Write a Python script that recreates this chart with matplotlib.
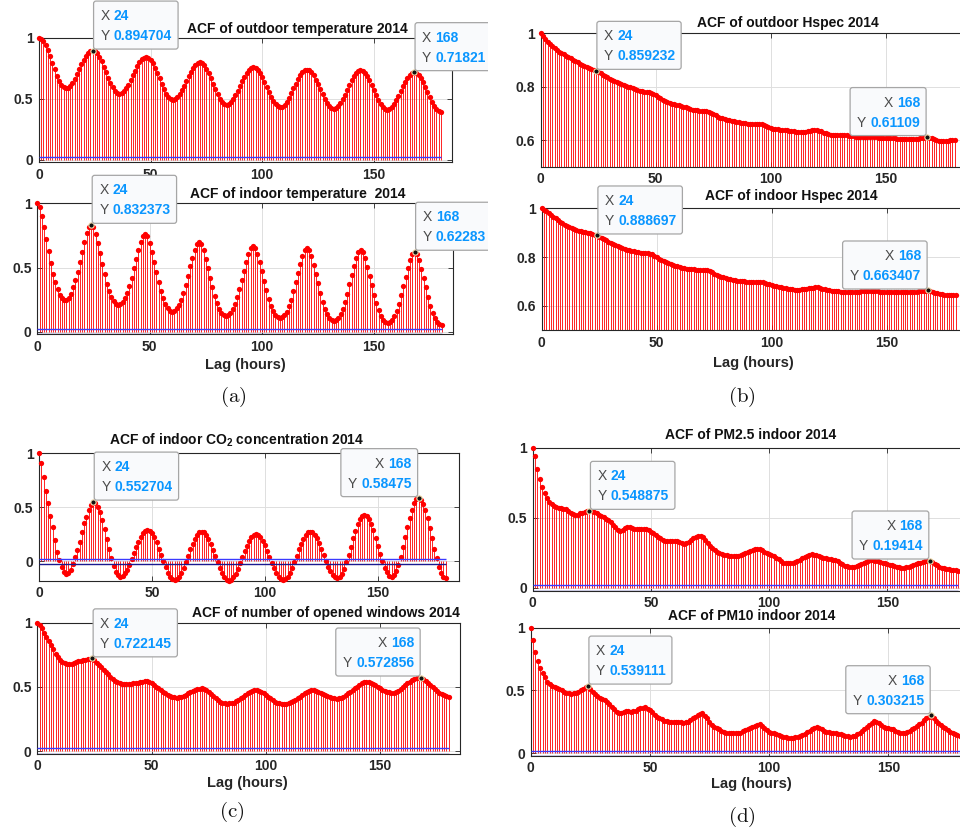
import matplotlib
matplotlib.use('Agg')
import matplotlib.pyplot as plt
import numpy as np
from matplotlib.transforms import IdentityTransform, Bbox
from matplotlib.patches import FancyBboxPatch

W, H = 960, 832
plt.rcParams['font.family'] = ['Liberation Sans', 'DejaVu Sans']
plt.rcParams['font.weight'] = 'bold'
plt.rcParams['mathtext.fontset'] = 'custom'
plt.rcParams['mathtext.rm'] = 'Liberation Sans'
plt.rcParams['mathtext.bf'] = 'Liberation Sans:bold'

lags = np.arange(181)

acf_out_temp = [
    1.000, 0.993, 0.972, 0.940, 0.897, 0.847, 0.794, 0.740, 0.690, 0.647, 0.615, 0.594,
    0.587, 0.592, 0.608, 0.632, 0.664, 0.701, 0.741, 0.781, 0.818, 0.850, 0.874, 0.890,
    0.894704, 0.889, 0.871, 0.843, 0.807, 0.764, 0.718, 0.672, 0.630, 0.593, 0.565, 0.547,
    0.541, 0.546, 0.561, 0.585, 0.616, 0.653, 0.692, 0.731, 0.767, 0.798, 0.822, 0.837,
    0.842, 0.836, 0.819, 0.791, 0.755, 0.712, 0.667, 0.622, 0.580, 0.543, 0.515, 0.498,
    0.492, 0.497, 0.513, 0.537, 0.569, 0.605, 0.645, 0.685, 0.722, 0.753, 0.778, 0.793,
    0.798, 0.792, 0.775, 0.747, 0.711, 0.669, 0.625, 0.580, 0.538, 0.502, 0.474, 0.457,
    0.451, 0.456, 0.472, 0.496, 0.528, 0.564, 0.604, 0.644, 0.681, 0.712, 0.737, 0.752,
    0.757, 0.752, 0.735, 0.709, 0.676, 0.637, 0.595, 0.552, 0.513, 0.480, 0.454, 0.438,
    0.432, 0.437, 0.453, 0.477, 0.509, 0.545, 0.585, 0.625, 0.662, 0.693, 0.718, 0.733,
    0.738, 0.733, 0.717, 0.691, 0.658, 0.619, 0.578, 0.537, 0.498, 0.465, 0.439, 0.423,
    0.418, 0.423, 0.439, 0.464, 0.497, 0.534, 0.575, 0.616, 0.654, 0.686, 0.711, 0.727,
    0.732, 0.727, 0.710, 0.685, 0.652, 0.613, 0.571, 0.529, 0.491, 0.457, 0.432, 0.416,
    0.410, 0.415, 0.431, 0.455, 0.487, 0.524, 0.564, 0.604, 0.641, 0.673, 0.697, 0.713,
    0.71821, 0.713, 0.696, 0.671, 0.638, 0.599, 0.557, 0.515, 0.477, 0.443, 0.418, 0.402,
    0.396]

acf_in_temp = [
    1.000, 0.974, 0.904, 0.818, 0.722, 0.629, 0.538, 0.449, 0.384, 0.330, 0.286, 0.262,
    0.247, 0.247, 0.260, 0.293, 0.345, 0.403, 0.468, 0.545, 0.623, 0.701, 0.771, 0.818,
    0.832373, 0.813, 0.760, 0.688, 0.611, 0.529, 0.448, 0.373, 0.314, 0.267, 0.236, 0.216,
    0.208, 0.215, 0.233, 0.261, 0.302, 0.355, 0.421, 0.493, 0.565, 0.634, 0.697, 0.744,
    0.761, 0.743, 0.691, 0.622, 0.546, 0.468, 0.389, 0.316, 0.259, 0.214, 0.183, 0.163,
    0.156, 0.163, 0.181, 0.208, 0.249, 0.300, 0.366, 0.437, 0.508, 0.576, 0.638, 0.685,
    0.701, 0.684, 0.634, 0.568, 0.495, 0.420, 0.345, 0.275, 0.220, 0.177, 0.148, 0.129,
    0.122, 0.129, 0.147, 0.174, 0.215, 0.267, 0.333, 0.404, 0.475, 0.544, 0.607, 0.654,
    0.670, 0.653, 0.605, 0.540, 0.469, 0.395, 0.322, 0.254, 0.200, 0.158, 0.129, 0.111,
    0.104, 0.111, 0.129, 0.156, 0.197, 0.249, 0.315, 0.386, 0.457, 0.526, 0.589, 0.636,
    0.652, 0.635, 0.587, 0.521, 0.450, 0.376, 0.302, 0.234, 0.180, 0.137, 0.109, 0.090,
    0.083, 0.090, 0.108, 0.136, 0.177, 0.230, 0.296, 0.368, 0.440, 0.509, 0.572, 0.619,
    0.636, 0.619, 0.571, 0.506, 0.435, 0.361, 0.288, 0.220, 0.166, 0.124, 0.095, 0.077,
    0.070, 0.077, 0.095, 0.123, 0.164, 0.217, 0.283, 0.355, 0.427, 0.496, 0.559, 0.606,
    0.62283, 0.606, 0.557, 0.491, 0.420, 0.345, 0.271, 0.202, 0.147, 0.104, 0.076, 0.057,
    0.050]

acf_out_hspec = [
    1.000, 0.990, 0.979, 0.968, 0.960, 0.952, 0.944, 0.937, 0.931, 0.926, 0.921, 0.916,
    0.911, 0.906, 0.901, 0.896, 0.891, 0.886, 0.881, 0.877, 0.873, 0.869, 0.866, 0.863,
    0.859232, 0.855, 0.850, 0.845, 0.840, 0.835, 0.830, 0.825, 0.821, 0.817, 0.813, 0.809,
    0.806, 0.803, 0.800, 0.797, 0.794, 0.790, 0.787, 0.784, 0.782, 0.781, 0.780, 0.779,
    0.777, 0.773, 0.768, 0.762, 0.756, 0.750, 0.745, 0.741, 0.738, 0.736, 0.734, 0.732,
    0.730, 0.728, 0.725, 0.722, 0.719, 0.716, 0.714, 0.712, 0.711, 0.710, 0.710, 0.709,
    0.709, 0.706, 0.702, 0.697, 0.692, 0.688, 0.684, 0.681, 0.678, 0.676, 0.674, 0.672,
    0.670, 0.668, 0.666, 0.664, 0.663, 0.662, 0.661, 0.660, 0.660, 0.660, 0.660, 0.661,
    0.660, 0.657, 0.653, 0.649, 0.646, 0.643, 0.641, 0.640, 0.639, 0.638, 0.637, 0.636,
    0.635, 0.634, 0.633, 0.631, 0.630, 0.629, 0.629, 0.630, 0.632, 0.634, 0.636, 0.637,
    0.637, 0.635, 0.632, 0.628, 0.625, 0.622, 0.620, 0.619, 0.618, 0.618, 0.618, 0.618,
    0.618, 0.617, 0.616, 0.615, 0.614, 0.613, 0.612, 0.612, 0.612, 0.612, 0.612, 0.613,
    0.614, 0.613, 0.611, 0.609, 0.608, 0.607, 0.606, 0.606, 0.606, 0.606, 0.606, 0.605,
    0.605, 0.604, 0.604, 0.603, 0.603, 0.603, 0.603, 0.604, 0.605, 0.606, 0.608, 0.610,
    0.61109, 0.609, 0.606, 0.603, 0.600, 0.598, 0.597, 0.597, 0.597, 0.598, 0.599, 0.600,
    0.600]

acf_in_hspec = [
    1.000, 0.994, 0.987, 0.980, 0.973, 0.966, 0.959, 0.952, 0.945, 0.939, 0.933, 0.928,
    0.923, 0.919, 0.915, 0.912, 0.909, 0.906, 0.904, 0.902, 0.900, 0.898, 0.895, 0.892,
    0.888697, 0.884, 0.879, 0.874, 0.869, 0.864, 0.859, 0.855, 0.850, 0.846, 0.842, 0.838,
    0.834, 0.831, 0.828, 0.826, 0.824, 0.822, 0.820, 0.818, 0.817, 0.816, 0.815, 0.813,
    0.811, 0.806, 0.800, 0.794, 0.789, 0.784, 0.780, 0.776, 0.772, 0.768, 0.765, 0.762,
    0.759, 0.757, 0.755, 0.753, 0.752, 0.751, 0.750, 0.749, 0.749, 0.748, 0.748, 0.748,
    0.747, 0.743, 0.738, 0.733, 0.728, 0.724, 0.720, 0.717, 0.714, 0.711, 0.709, 0.707,
    0.705, 0.704, 0.703, 0.702, 0.701, 0.700, 0.700, 0.700, 0.700, 0.700, 0.700, 0.700,
    0.699, 0.696, 0.692, 0.689, 0.686, 0.683, 0.680, 0.678, 0.676, 0.674, 0.672, 0.670,
    0.669, 0.668, 0.667, 0.667, 0.667, 0.668, 0.669, 0.670, 0.672, 0.674, 0.675, 0.676,
    0.676, 0.674, 0.671, 0.668, 0.666, 0.664, 0.663, 0.662, 0.661, 0.660, 0.659, 0.659,
    0.658, 0.658, 0.658, 0.658, 0.658, 0.659, 0.659, 0.660, 0.660, 0.661, 0.662, 0.662,
    0.662, 0.661, 0.660, 0.659, 0.658, 0.658, 0.657, 0.657, 0.657, 0.657, 0.657, 0.657,
    0.657, 0.657, 0.657, 0.657, 0.658, 0.658, 0.659, 0.659, 0.660, 0.661, 0.662, 0.663,
    0.663407, 0.661, 0.658, 0.655, 0.652, 0.650, 0.648, 0.647, 0.646, 0.646, 0.645, 0.645,
    0.645]

acf_co2 = [
    1.000, 0.914, 0.778, 0.654, 0.537, 0.423, 0.321, 0.198, 0.090, 0.012, -0.049, -0.096,
    -0.117, -0.111, -0.080, -0.025, 0.043, 0.105, 0.182, 0.275, 0.352, 0.414, 0.475, 0.522,
    0.552704, 0.541, 0.506, 0.452, 0.379, 0.295, 0.206, 0.116, 0.032, -0.041, -0.095, -0.130,
    -0.142, -0.135, -0.113, -0.079, -0.034, 0.018, 0.074, 0.130, 0.182, 0.227, 0.261, 0.283,
    0.290, 0.282, 0.259, 0.222, 0.174, 0.118, 0.059, -0.001, -0.057, -0.105, -0.142, -0.165,
    -0.173, -0.165, -0.143, -0.108, -0.061, -0.007, 0.051, 0.109, 0.163, 0.210, 0.245, 0.267,
    0.275, 0.267, 0.245, 0.209, 0.162, 0.107, 0.048, -0.011, -0.066, -0.113, -0.149, -0.171,
    -0.179, -0.172, -0.150, -0.116, -0.071, -0.019, 0.037, 0.093, 0.145, 0.190, 0.224, 0.246,
    0.253, 0.246, 0.224, 0.191, 0.147, 0.095, 0.040, -0.015, -0.067, -0.111, -0.145, -0.166,
    -0.173, -0.165, -0.143, -0.108, -0.061, -0.007, 0.051, 0.109, 0.163, 0.210, 0.245, 0.267,
    0.275, 0.268, 0.246, 0.212, 0.167, 0.115, 0.059, 0.003, -0.049, -0.094, -0.128, -0.150,
    -0.157, -0.147, -0.118, -0.071, -0.011, 0.060, 0.136, 0.212, 0.283, 0.343, 0.390, 0.419,
    0.429, 0.419, 0.391, 0.346, 0.286, 0.217, 0.144, 0.070, 0.001, -0.059, -0.104, -0.132,
    -0.142, -0.130, -0.093, -0.036, 0.040, 0.128, 0.222, 0.315, 0.403, 0.479, 0.536, 0.573,
    0.58475, 0.572, 0.535, 0.477, 0.400, 0.310, 0.214, 0.118, 0.029, -0.049, -0.107, -0.144,
    -0.157]

acf_windows = [
    1.000, 0.982, 0.956, 0.922, 0.891, 0.860, 0.826, 0.792, 0.758, 0.731, 0.710, 0.695,
    0.684, 0.679, 0.678, 0.682, 0.688, 0.695, 0.701, 0.705, 0.709, 0.713, 0.717, 0.720,
    0.722145, 0.707, 0.689, 0.670, 0.652, 0.635, 0.618, 0.598, 0.579, 0.562, 0.548, 0.536,
    0.527, 0.522, 0.519, 0.520, 0.522, 0.524, 0.527, 0.530, 0.533, 0.537, 0.541, 0.545,
    0.548, 0.541, 0.532, 0.517, 0.501, 0.488, 0.475, 0.462, 0.449, 0.438, 0.429, 0.422,
    0.418, 0.417, 0.418, 0.422, 0.429, 0.439, 0.449, 0.459, 0.468, 0.476, 0.483, 0.486,
    0.488, 0.484, 0.475, 0.460, 0.444, 0.427, 0.410, 0.396, 0.384, 0.376, 0.371, 0.370,
    0.371, 0.373, 0.377, 0.386, 0.397, 0.410, 0.423, 0.436, 0.449, 0.459, 0.468, 0.473,
    0.475, 0.470, 0.462, 0.449, 0.436, 0.423, 0.410, 0.396, 0.384, 0.376, 0.371, 0.368,
    0.366, 0.368, 0.371, 0.380, 0.390, 0.400, 0.410, 0.423, 0.436, 0.449, 0.462, 0.470,
    0.475, 0.472, 0.468, 0.462, 0.455, 0.446, 0.436, 0.427, 0.418, 0.413, 0.410, 0.409,
    0.410, 0.415, 0.423, 0.435, 0.449, 0.462, 0.475, 0.488, 0.501, 0.514, 0.527, 0.535,
    0.540, 0.537, 0.532, 0.524, 0.514, 0.501, 0.488, 0.478, 0.470, 0.463, 0.457, 0.455,
    0.455, 0.460, 0.470, 0.485, 0.501, 0.514, 0.527, 0.540, 0.553, 0.560, 0.566, 0.570,
    0.572856, 0.562, 0.548, 0.531, 0.514, 0.498, 0.483, 0.468, 0.455, 0.444, 0.436, 0.429,
    0.423]

acf_pm25 = [
    1.000, 0.940, 0.845, 0.774, 0.717, 0.679, 0.643, 0.614, 0.598, 0.583, 0.574, 0.570,
    0.567, 0.564, 0.560, 0.549, 0.536, 0.526, 0.519, 0.522, 0.531, 0.537, 0.543, 0.547,
    0.548875, 0.547, 0.543, 0.532, 0.519, 0.511, 0.502, 0.494, 0.483, 0.466, 0.448, 0.430,
    0.412, 0.402, 0.412, 0.425, 0.434, 0.430, 0.424, 0.420, 0.417, 0.419, 0.421, 0.419,
    0.417, 0.410, 0.400, 0.388, 0.376, 0.364, 0.352, 0.343, 0.336, 0.336, 0.336, 0.336,
    0.336, 0.333, 0.329, 0.320, 0.312, 0.318, 0.329, 0.341, 0.352, 0.361, 0.369, 0.368,
    0.360, 0.340, 0.317, 0.298, 0.281, 0.268, 0.257, 0.248, 0.240, 0.236, 0.233, 0.229,
    0.226, 0.226, 0.226, 0.229, 0.233, 0.241, 0.250, 0.257, 0.264, 0.270, 0.276, 0.277,
    0.274, 0.266, 0.257, 0.247, 0.238, 0.232, 0.226, 0.214, 0.202, 0.190, 0.179, 0.175,
    0.174, 0.176, 0.179, 0.186, 0.193, 0.201, 0.210, 0.218, 0.226, 0.232, 0.238, 0.237,
    0.233, 0.227, 0.221, 0.215, 0.210, 0.206, 0.202, 0.200, 0.198, 0.189, 0.179, 0.168,
    0.157, 0.153, 0.150, 0.150, 0.150, 0.156, 0.162, 0.170, 0.179, 0.186, 0.193, 0.196,
    0.198, 0.194, 0.190, 0.184, 0.179, 0.174, 0.169, 0.164, 0.160, 0.155, 0.150, 0.146,
    0.143, 0.143, 0.145, 0.151, 0.157, 0.163, 0.169, 0.174, 0.179, 0.186, 0.193, 0.194,
    0.19414, 0.182, 0.169, 0.159, 0.150, 0.144, 0.138, 0.134, 0.131, 0.128, 0.126, 0.123,
    0.121]

acf_pm10 = [
    1.000, 0.902, 0.804, 0.737, 0.676, 0.642, 0.605, 0.570, 0.552, 0.536, 0.525, 0.517,
    0.509, 0.500, 0.491, 0.484, 0.477, 0.476, 0.477, 0.483, 0.491, 0.501, 0.512, 0.525,
    0.539111, 0.515, 0.491, 0.473, 0.456, 0.443, 0.430, 0.421, 0.411, 0.391, 0.371, 0.351,
    0.332, 0.322, 0.318, 0.330, 0.340, 0.336, 0.332, 0.336, 0.340, 0.349, 0.358, 0.363,
    0.366, 0.356, 0.345, 0.325, 0.305, 0.292, 0.279, 0.270, 0.260, 0.256, 0.252, 0.252,
    0.252, 0.250, 0.247, 0.246, 0.244, 0.248, 0.252, 0.265, 0.279, 0.292, 0.305, 0.312,
    0.318, 0.298, 0.279, 0.252, 0.225, 0.212, 0.199, 0.190, 0.180, 0.172, 0.164, 0.161,
    0.159, 0.159, 0.159, 0.161, 0.164, 0.175, 0.186, 0.192, 0.199, 0.208, 0.218, 0.225,
    0.231, 0.218, 0.204, 0.188, 0.172, 0.165, 0.159, 0.152, 0.146, 0.140, 0.133, 0.129,
    0.125, 0.125, 0.125, 0.129, 0.133, 0.140, 0.146, 0.156, 0.167, 0.179, 0.191, 0.202,
    0.212, 0.201, 0.191, 0.181, 0.172, 0.168, 0.164, 0.161, 0.159, 0.155, 0.151, 0.146,
    0.141, 0.134, 0.127, 0.134, 0.141, 0.152, 0.164, 0.177, 0.191, 0.208, 0.225, 0.243,
    0.260, 0.250, 0.239, 0.225, 0.212, 0.205, 0.199, 0.195, 0.191, 0.181, 0.172, 0.165,
    0.159, 0.165, 0.172, 0.181, 0.191, 0.204, 0.218, 0.231, 0.244, 0.262, 0.279, 0.291,
    0.303215, 0.281, 0.260, 0.242, 0.225, 0.212, 0.199, 0.185, 0.172, 0.163, 0.154, 0.147,
    0.141]

conf_bound = 0.021
tip_lags = [24, 168]
xticks = [0, 50, 100, 150]

titles = ["ACF of outdoor temperature 2014",
          "ACF of indoor temperature  2014",
          "ACF of outdoor Hspec 2014",
          "ACF of indoor Hspec 2014",
          r"ACF of indoor CO$_\mathbf{2}$ concentration 2014",
          "ACF of number of opened windows 2014",
          "ACF of PM2.5 indoor 2014",
          "ACF of PM10 indoor 2014"]
xlabel_text = "Lag (hours)"
panel_labels = ["(a)", "(b)", "(c)", "(d)"]

fig = plt.figure(figsize=(W / 100, H / 100), dpi=100)
fig.patch.set_facecolor('white')
renderer = fig.canvas.get_renderer()
ID = IdentityTransform()
LEFT_CLIP = Bbox.from_extents(0, 0, 488, H)

RED = '#ff0000'
DARK = '#262626'


def px_axes(left, top, right, bottom):
    return fig.add_axes([left / W, 1 - bottom / H, (right - left) / W, (bottom - top) / H])


def ftext(x, ytop, s, **kw):
    return fig.text(x, H - ytop, s, transform=ID, **kw)


def datatip(ax, x, y, side, clip=None):
    dx, dy = ax.transData.transform((x, y))
    ax.plot([x], [y], 'o', ms=3.8, mfc='#111111', mec='#f2e0b0', mew=0.8,
            zorder=10, clip_on=False)
    lines = [('X', f'{x:g}'), ('Y', f'{y:.6g}')]
    box_h = 48
    y0 = dy + 1.5
    top = y0 + box_h
    baselines = [top - 19, top - 39]
    arts = []
    if side == 'right':
        x0 = dx + 1
        ends = []
        for (lab, val), bl in zip(lines, baselines):
            t1 = fig.text(x0 + 7, bl, lab, transform=ID, fontsize=10, fontweight='normal',
                          color='#4a4a4a', ha='left', va='baseline', zorder=6)
            bb = t1.get_window_extent(renderer)
            t2 = fig.text(bb.x1 + 4, bl, val, transform=ID, fontsize=10, fontweight='bold',
                          color='#0a96ff', ha='left', va='baseline', zorder=6)
            ends.append(t2.get_window_extent(renderer).x1)
            arts += [t1, t2]
        x1 = max(ends) + 6
    else:
        x1 = dx - 1
        starts = []
        for (lab, val), bl in zip(lines, baselines):
            t2 = fig.text(x1 - 6, bl, val, transform=ID, fontsize=10, fontweight='bold',
                          color='#0a96ff', ha='right', va='baseline', zorder=6)
            bb = t2.get_window_extent(renderer)
            t1 = fig.text(bb.x0 - 4, bl, lab, transform=ID, fontsize=10, fontweight='normal',
                          color='#4a4a4a', ha='right', va='baseline', zorder=6)
            starts.append(t1.get_window_extent(renderer).x0)
            arts += [t1, t2]
        x0 = min(starts) - 7
    patch = FancyBboxPatch((x0, y0), x1 - x0, box_h,
                           boxstyle='round,pad=0,rounding_size=2.5', transform=ID,
                           fc='#f9fafc', ec='#a6a6a6', lw=0.9, zorder=5)
    fig.add_artist(patch)
    arts.append(patch)
    if clip is not None:
        for a in arts:
            a.set_clip_box(clip)
            a.set_clip_on(True)


def panel(rect, vals, ylim, yticks, xmax, title, title_c, sides, clip=None):
    ax = px_axes(*rect)
    ax.set_xlim(0, xmax)
    ax.set_ylim(*ylim)
    ax.set_xticks(xticks)
    ax.set_yticks(yticks)
    ax.set_yticklabels([f'{t:g}' for t in yticks])
    ax.grid(True, color='#dedede', lw=0.7)
    ax.set_axisbelow(True)
    ax.vlines(lags, 0, vals, colors=RED, lw=0.6, zorder=2)
    ax.plot(lags, vals, 'o', ms=3.8, color=RED, mew=0, zorder=3, clip_on=False)
    ax.hlines([conf_bound], 0, 180, colors='#3a3aff', lw=1.0, zorder=4)
    ax.hlines([-conf_bound], 0, 180, colors='#1a1a90', lw=1.0, zorder=4)
    ax.tick_params(direction='in', top=True, right=True, length=3.5, width=0.6,
                   colors=DARK, labelsize=10, pad=4)
    for sp in ax.spines.values():
        sp.set_color(DARK)
        sp.set_linewidth(0.8)
    ftext(title_c[0], title_c[1], title, fontsize=10, fontweight='bold', color='#111111',
          ha='center', va='center', zorder=3)
    for lag, side in zip(tip_lags, sides):
        datatip(ax, lag, vals[lag], side, clip)
    return ax


panel((39, 37.7, 452, 162.4), acf_out_temp, (-0.02, 1), [0, 0.5, 1], 185,
      titles[0], (297, 29), ['right', 'right'], LEFT_CLIP)
panel((37.3, 203.3, 452.8, 334.3), acf_in_temp, (-0.02, 1), [0, 0.5, 1], 185,
      titles[1], (297.5, 194), ['right', 'right'], LEFT_CLIP)
panel((540.7, 33.3, 966.2, 166.7), acf_out_hspec, (0.5, 1), [0.6, 0.8, 1], 185,
      titles[2], (788, 23.3), ['right', 'left'])
panel((541.7, 208.3, 967.2, 330.4), acf_in_hspec, (0.5, 1), [0.6, 0.8, 1], 185,
      titles[3], (791, 196), ['right', 'left'])
panel((39, 453.3, 459.3, 580.7), acf_co2, (-0.18, 1), [0, 0.5, 1], 186,
      titles[4], (236.3, 440.7), ['right', 'left'], LEFT_CLIP)
panel((37.3, 622.7, 460, 753.6), acf_windows, (-0.02, 1), [0, 0.5, 1], 185,
      titles[5], (326.3, 613.3), ['right', 'left'], LEFT_CLIP)
panel((532.7, 447.7, 970, 590.5), acf_pm25, (-0.02, 1), [0, 0.5, 1], 185,
      titles[6], (750.8, 435), ['right', 'left'])
panel((530.7, 627.7, 971.7, 755.8), acf_pm10, (-0.02, 1), [0, 0.5, 1], 185,
      titles[7], (751.2, 616), ['right', 'left'])

for (cx, cy) in [(245, 365), (753, 363.3), (247, 783.3), (751, 784)]:
    ftext(cx, cy, xlabel_text, fontsize=10.5, fontweight='bold', color=DARK,
          ha='center', va='center')

for lab, (cx, cy) in zip(panel_labels, [(233, 396.7), (742, 396.7), (232, 811.7), (742, 816.7)]):
    ftext(cx, cy, r'$\mathrm{' + lab + '}$', math_fontfamily='cm', fontsize=15,
          ha='center', va='center', color='#111111')

fig.savefig('out.png', dpi=100)
